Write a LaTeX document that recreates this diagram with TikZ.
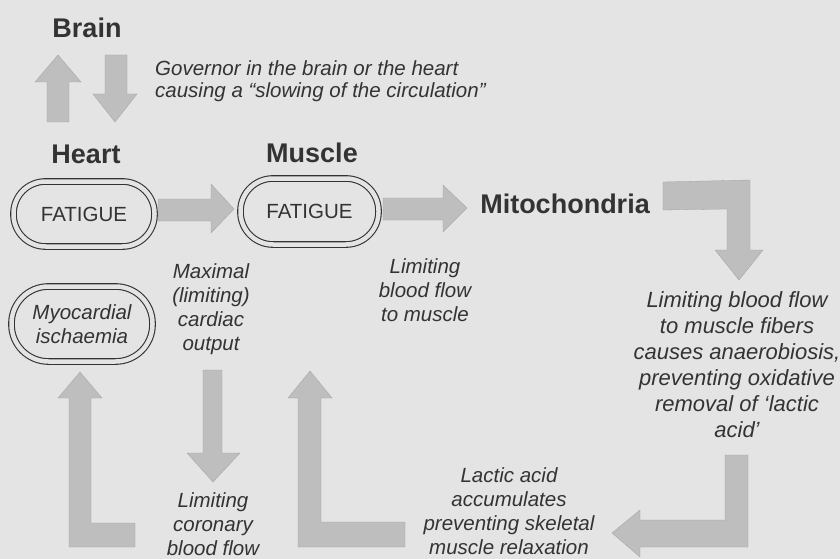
\documentclass[tikz,border=0pt]{standalone}
\usepackage{fontspec}
\setmainfont{Liberation Sans}
\definecolor{bg}{HTML}{E4E4E4}
\definecolor{arr}{HTML}{BEBEBE}
\definecolor{ink}{HTML}{333333}
\begin{document}
\begin{tikzpicture}[x=1pt,y=-1pt,
  title/.style={font=\bfseries\fontsize{27}{30}\selectfont, text=ink, inner sep=0},
  lab/.style={font=\itshape\fontsize{20.5}{24}\selectfont, text=ink, align=center, inner sep=0},
  biglab/.style={font=\itshape\fontsize{22}{26}\selectfont, text=ink, align=center, inner sep=0},
  fbox/.style={draw=ink, line width=1.1pt, double=bg, double distance=4.5pt, text=ink,
    minimum width=141pt, align=center, inner sep=0},
  blk/.style={fill=arr, draw=arr!85!black, line width=0.3pt}]
\fill[bg] (0,0) rectangle (840,559);
\useasboundingbox (0,0) rectangle (840,559);

% titles
\node[title] (brain) at (87,28) {Brain};
\node[title] (heart) at (86,154) {Heart};
\node[title] (muscle) at (312,153) {Muscle};
\node[title] (mito) at (565,204) {Mitochondria};

% boxes
\node[fbox, minimum height=65pt, rounded corners=32pt, font=\fontsize{20.5}{24}\selectfont] (hf) at (84,214) {FATIGUE};
\node[fbox, minimum width=138pt, minimum height=66pt, rounded corners=32.5pt, font=\fontsize{20.5}{24}\selectfont] (mf) at (309.5,211.5) {FATIGUE};
\node[fbox, minimum height=75pt, rounded corners=37pt, font=\itshape\fontsize{20.5}{24}\selectfont] (myo) at (82,324) {Myocardial\\ischaemia};

% labels
\node[lab, align=left, anchor=north west, font=\itshape\fontsize{20.5}{22}\selectfont] (gov) at (155,60)
  {Governor in the brain or the heart\\causing a “slowing of the circulation”};
\node[lab, anchor=north] (maxl) at (211,263) {Maximal\\(limiting)\\cardiac\\output};
\node[lab, anchor=north] (lbm) at (425,258) {Limiting\\blood flow\\to muscle};
\node[biglab, anchor=north] (lbf) at (737,291) {Limiting blood flow\\to muscle fibers\\causes anaerobiosis,\\preventing oxidative\\removal of ‘lactic\\acid’};
\node[lab, anchor=north] (lact) at (509,467) {Lactic acid\\accumulates\\preventing skeletal\\muscle relaxation};
\node[lab, anchor=north] (lcor) at (213,492) {Limiting\\coronary\\blood flow};

% block arrows
\draw[blk] (47,122) -- (47,82) -- (35,82) -- (58,55) -- (81,82) -- (69,82) -- (69,122) -- cycle;
\draw[blk] (105,55) -- (127,55) -- (127,94) -- (137,94) -- (115,122) -- (93,94) -- (105,94) -- cycle;
\draw[blk] (158,199) -- (211,199) -- (211,184) -- (234,209) -- (211,233) -- (211,221) -- (158,221) -- cycle;
\draw[blk] (383,198) -- (443,198) -- (443,185) -- (467,208) -- (443,232) -- (443,220) -- (383,220) -- cycle;
\draw[blk] (663,182) -- (750,180) -- (750,250) -- (763,250) -- (739,280) -- (715,250) -- (727,250) -- (727,209) -- (663,210) -- cycle;
\draw[blk] (203,370) -- (222,370) -- (222,453) -- (240,453) -- (213,482) -- (187,453) -- (203,453) -- cycle;
\draw[blk] (80,372) -- (102,398) -- (91,398) -- (91,523) -- (135,523) -- (135,547) -- (69,547) -- (69,398) -- (58,398) -- cycle;
\draw[blk] (310,371) -- (332,398) -- (321,398) -- (321,522) -- (405,522) -- (405,547) -- (298,547) -- (298,398) -- (288,398) -- cycle;
\draw[blk] (725,455) -- (748,455) -- (748,547) -- (640,547) -- (640,557) -- (612,533) -- (640,510) -- (640,520) -- (725,520) -- cycle;
\end{tikzpicture}
\end{document}
